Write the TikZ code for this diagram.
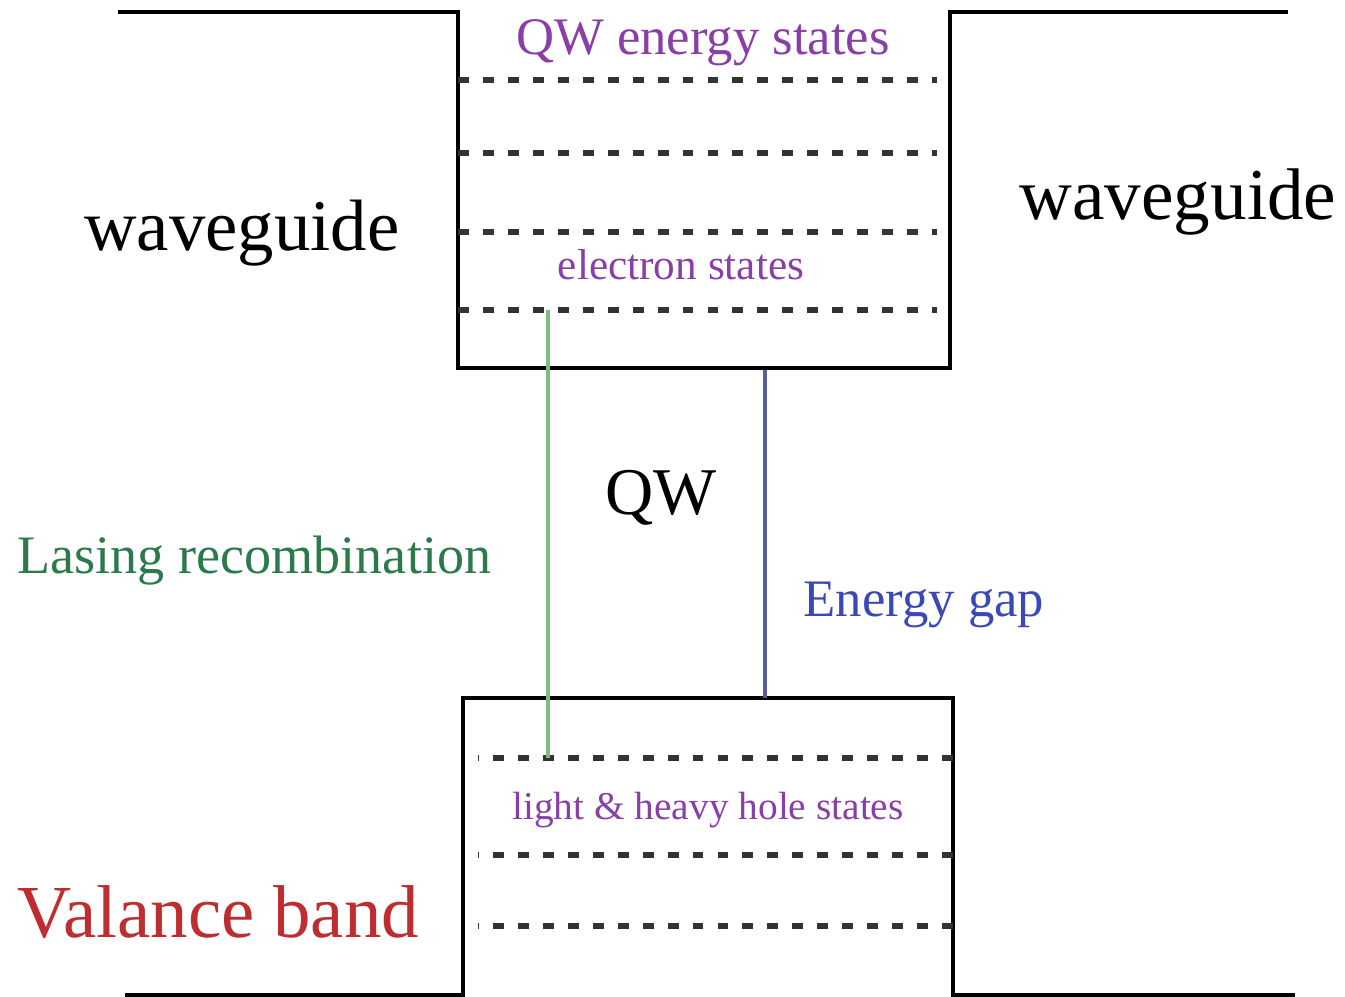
\documentclass[tikz,border=0pt]{standalone}
\usepackage{fontspec}
\setmainfont{Liberation Serif}
\usepackage{tikz}
\usepackage{xcolor}
\usetikzlibrary{positioning,calc}
\definecolor{qwpurple}{HTML}{8A3FA6}
\definecolor{lasegreen}{HTML}{2A7A4A}
\definecolor{lasegreenline}{HTML}{7DBE7D}
\definecolor{gapblue}{HTML}{3A48B8}
\definecolor{gapblueline}{HTML}{5A5C9E}
\definecolor{valred}{HTML}{BE2E30}
\tikzset{
  band/.style={line width=1.2pt, draw=black},
  level/.style={line width=1.5pt, draw=black!80, dash pattern=on 3.1pt off 4pt},
  lbl/.style={inner sep=0pt, anchor=base},
  lblw/.style={inner sep=0pt, anchor=base west},
  transition/.style={line width=0.9pt}
}

\begin{document}
\begin{tikzpicture}
  \useasboundingbox (0,0) rectangle (13.45,9.97);
  % conduction band edge with the well
  \coordinate (cbl) at (1.18,9.85);
  \coordinate (cbr) at (12.88,9.85);
  \coordinate (qwtl) at (4.58,9.85);
  \coordinate (qwtr) at (9.50,9.85);
  \coordinate (qwbl) at (4.58,6.29);
  \coordinate (qwbr) at (9.50,6.29);
  \draw[band] (cbl) -- (qwtl) -- (qwbl) -- (qwbr) -- (qwtr) -- (cbr);
  % valence band edge
  \coordinate (vbl) at (1.25,0.02);
  \coordinate (vbr) at (12.95,0.02);
  \coordinate (vql) at (4.63,0.02);
  \coordinate (vqr) at (9.53,0.02);
  \coordinate (vtl) at (4.63,2.99);
  \coordinate (vtr) at (9.53,2.99);
  \draw[band] (vbl) -- (vql) -- (vtl) -- (vtr) -- (vqr) -- (vbr);
  % electron states
  \foreach \y/\n in {9.17/1, 8.44/2, 7.65/3, 6.87/4} {
    \coordinate (e\n) at (4.58,\y);
    \draw[level] (e\n) -- ++(4.79,0);
  }
  % hole states
  \foreach \y/\n in {2.39/1, 1.42/2, 0.71/3} {
    \coordinate (h\n) at (9.53,\y);
    \draw[level] (h\n) -- ++(-4.75,0);
  }
  % transitions
  \coordinate (lasetop) at ($(e4)+(0.90,0)$);
  \coordinate (lasebot) at (lasetop |- h1);
  \draw[transition, lasegreenline] (lasetop) -- (lasebot);
  \coordinate (gaptop) at (7.65,6.27);
  \coordinate (gapbot) at (gaptop |- vtl);
  \draw[transition, gapblueline] (gaptop) -- (gapbot);
  % labels
  \node[lbl, font=\fontsize{15}{18}\selectfont, text=qwpurple] (qwstates) at (7.03,9.42) {QW energy states};
  \node[lbl, font=\fontsize{20.7}{24}\selectfont] (wgleft) at (2.42,7.46) {waveguide};
  \node[lbl, font=\fontsize{20.8}{24}\selectfont] (wgright) at (11.78,7.77) {waveguide};
  \node[lbl, font=\fontsize{12.3}{15}\selectfont, text=qwpurple] (estates) at (6.81,7.17) {electron states};
  \node[lbl, font=\fontsize{19}{23}\selectfont] (qw) at (6.61,4.82) {QW};
  \node[lblw, font=\fontsize{15.4}{18}\selectfont, text=lasegreen] (lasing) at (0.17,4.23) {Lasing recombination};
  \node[lblw, font=\fontsize{15}{18}\selectfont, text=gapblue] (gap) at (8.03,3.80) {Energy gap};
  \node[lbl, font=\fontsize{11.2}{14}\selectfont, text=qwpurple] (hstates) at (7.08,1.77) {light \& heavy hole states};
  \node[lblw, font=\fontsize{21.3}{25}\selectfont, text=valred] (valance) at (0.17,0.59) {Valance band};
\end{tikzpicture}
\end{document}
